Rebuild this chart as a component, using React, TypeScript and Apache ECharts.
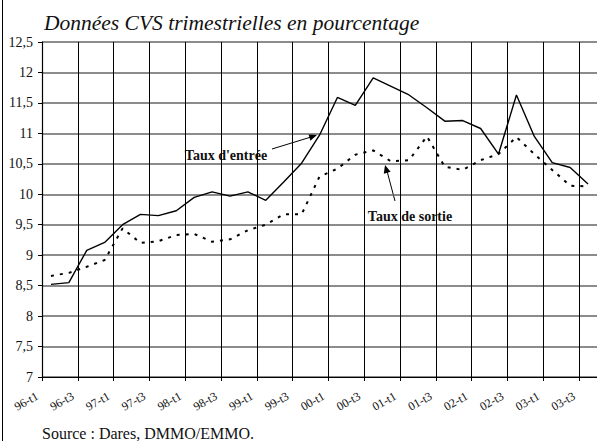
import React, { useEffect, useRef } from "react";
import * as echarts from "echarts";

const categories: string[] = [
  "96-t1", "96-t2", "96-t3", "96-t4",
  "97-t1", "97-t2", "97-t3", "97-t4",
  "98-t1", "98-t2", "98-t3", "98-t4",
  "99-t1", "99-t2", "99-t3", "99-t4",
  "00-t1", "00-t2", "00-t3", "00-t4",
  "01-t1", "01-t2", "01-t3", "01-t4",
  "02-t1", "02-t2", "02-t3", "02-t4",
  "03-t1", "03-t2", "03-t3",
];

const tauxEntree: number[] = [
  8.52, 8.55, 9.08, 9.21, 9.5, 9.67, 9.65, 9.73,
  9.95, 10.04, 9.97, 10.04, 9.9, 10.2, 10.51, 10.97,
  11.59, 11.46, 11.91, 11.77, 11.63, 11.42, 11.2, 11.21,
  11.08, 10.66, 11.63, 10.95, 10.52, 10.44, 10.17,
];

const tauxSortie: number[] = [
  8.66, 8.71, 8.81, 8.92, 9.44, 9.2, 9.23, 9.33,
  9.35, 9.22, 9.26, 9.41, 9.5, 9.67, 9.67, 10.29,
  10.42, 10.65, 10.72, 10.54, 10.56, 10.95, 10.45, 10.4,
  10.56, 10.66, 10.94, 10.66, 10.4, 10.14, 10.13,
];

const yMin = 7;
const yMax = 12.5;
const yStep = 0.5;

const titleText = "Données CVS trimestrielles en pourcentage";
const sourceText = "Source : Dares, DMMO/EMMO.";
const labelEntree = "Taux d'entrée";
const labelSortie = "Taux de sortie";

const SERIF = "Liberation Serif";

export default function App() {
  const ref = useRef<HTMLDivElement>(null);

  useEffect(() => {
    if (!ref.current) return;
    const chart = echarts.init(ref.current, undefined, { renderer: "svg" });
    chart.setOption({
      animation: false,
      backgroundColor: "#ffffff",
      textStyle: { fontFamily: SERIF },
      title: {
        text: titleText,
        left: 39,
        top: 7,
        textStyle: {
          fontFamily: SERIF,
          fontStyle: "italic",
          fontWeight: "normal",
          fontSize: 21.5,
          color: "#111",
        },
      },
      grid: { left: 42, top: 42, width: 558, height: 335 },
      xAxis: {
        type: "category",
        data: categories,
        boundaryGap: true,
        axisLine: { show: true, lineStyle: { color: "#000", width: 1.2 } },
        axisTick: { show: true, interval: 1, length: 4, lineStyle: { color: "#000" } },
        splitLine: { show: true, interval: 1, lineStyle: { color: "#000", width: 1 } },
        axisLabel: {
          interval: 1,
          rotate: 30,
          margin: 10,
          padding: [0, 16, 0, 0],
          fontFamily: SERIF,
          fontSize: 12,
          color: "#111",
        },
      },
      yAxis: {
        type: "value",
        min: yMin,
        max: yMax,
        interval: yStep,
        axisLine: { show: true, lineStyle: { color: "#000", width: 1.2 } },
        axisTick: { show: true, length: 4, lineStyle: { color: "#000" } },
        splitLine: { show: true, lineStyle: { color: "#666", width: 1.5 } },
        axisLabel: {
          margin: 9,
          fontFamily: SERIF,
          fontSize: 14,
          color: "#111",
          formatter: (v: number) => String(v).replace(".", ","),
        },
      },
      series: [
        {
          name: labelEntree,
          type: "line",
          data: tauxEntree,
          symbol: "none",
          lineStyle: { color: "#000", width: 1.4 },
        },
        {
          name: labelSortie,
          type: "line",
          data: tauxSortie,
          symbol: "none",
          lineStyle: { color: "#000", width: 2, type: [3, 6] },
        },
      ],
      graphic: [
        { type: "line", shape: { x1: 2.5, y1: 0, x2: 2.5, y2: 441 }, style: { stroke: "#000", lineWidth: 1 } },
        {
          type: "text",
          x: 226,
          y: 155,
          style: {
            text: labelEntree,
            fontFamily: SERIF,
            fontWeight: "bold",
            fontSize: 14,
            fill: "#111",
            align: "center",
            verticalAlign: "middle",
            backgroundColor: "#fff",
            padding: [4, 5, 4, 5],
          },
        },
        { type: "line", shape: { x1: 272, y1: 149, x2: 311, y2: 137 }, style: { stroke: "#000", lineWidth: 1 } },
        { type: "polygon", shape: { points: [[317, 135], [310.4, 140.7], [308.4, 134.0]] }, style: { fill: "#000" } },
        {
          type: "text",
          x: 410,
          y: 216,
          style: {
            text: labelSortie,
            fontFamily: SERIF,
            fontWeight: "bold",
            fontSize: 14,
            fill: "#111",
            align: "center",
            verticalAlign: "middle",
            backgroundColor: "#fff",
            padding: [5, 6, 5, 6],
          },
        },
        { type: "line", shape: { x1: 395, y1: 201, x2: 387, y2: 171 }, style: { stroke: "#000", lineWidth: 1 } },
        { type: "polygon", shape: { points: [[385, 165], [390.6, 171.7], [383.8, 173.7]] }, style: { fill: "#000" } },
        {
          type: "text",
          x: 42,
          y: 433,
          style: {
            text: sourceText,
            fontFamily: SERIF,
            fontSize: 16,
            fill: "#111",
            align: "left",
            verticalAlign: "middle",
          },
        },
      ],
    });
    return () => chart.dispose();
  }, []);

  return (
    <div
      ref={ref}
      style={{ position: "fixed", left: 0, top: 0, width: 597, height: 441 }}
    />
  );
}
